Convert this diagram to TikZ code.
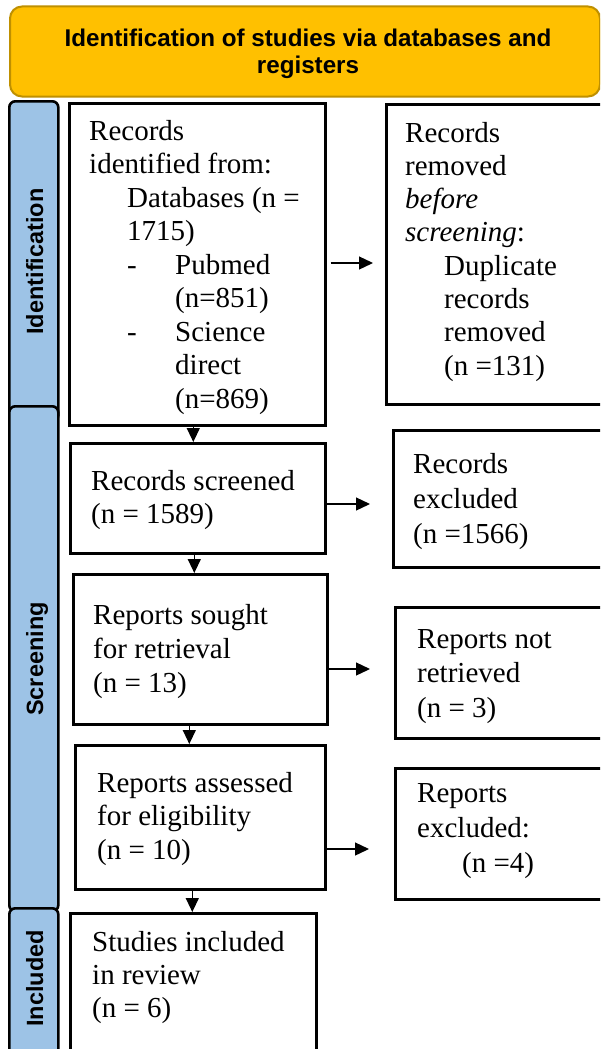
\documentclass[tikz,border=0pt]{standalone}
\usepackage{fontspec}
\setmainfont{Liberation Serif}
\newfontfamily\hdrfont{Liberation Sans}
\usetikzlibrary{arrows.meta}
\definecolor{bangold}{HTML}{FFC000}
\definecolor{banedge}{HTML}{BF9000}
\definecolor{barblue}{HTML}{9DC3E6}
\begin{document}
\begin{tikzpicture}[x=1pt,y=-1pt,
  box/.style={draw=black, line width=2.6pt, fill=white, inner sep=0pt, anchor=north west},
  bar/.style={draw=black, line width=2.6pt, fill=barblue, rounded corners=6pt, inner sep=0pt, anchor=north west, minimum width=49pt},
  sidelab/.style={rotate=90, anchor=base, inner sep=0pt, font=\hdrfont\bfseries\fontsize{23.5pt}{27pt}\selectfont},
  txt/.style={anchor=base west, inner sep=0pt, font=\fontsize{29pt}{#1pt}\selectfont},
  arr/.style={line width=1.3pt, -{Triangle[length=14pt,width=13pt]}}]
\useasboundingbox (0,0) rectangle (600,1049);
\clip (0,0) rectangle (600,1049);
\fill[white] (0,0) rectangle (600,1049);
% banner
\node[draw=banedge, line width=2pt, fill=bangold, rounded corners=12pt, anchor=north west,
      minimum width=590pt, minimum height=90pt, inner sep=0pt] (ban) at (9,5.5) {};
\node[anchor=base, inner sep=0pt, font=\hdrfont\bfseries\fontsize{24.2pt}{27pt}\selectfont] (bantxt) at (308,47)
  {\begin{tabular}[t]{@{}c@{}}Identification of studies via databases and\\registers\end{tabular}};
% side bars
\node[bar, minimum height=320pt] (ib) at (8,100) {};
\node[bar, minimum height=505pt] (sb) at (8,405) {};
\node[bar, minimum height=160pt] (cb) at (8,907) {};
\node[sidelab] (ibt) at (43,261.5) {Identification};
\node[sidelab] (sbt) at (43,659) {Screening};
\node[sidelab] (cbt) at (43,978.5) {Included};
% main boxes
\node[box, minimum width=256pt, minimum height=322pt] (b1) at (68,102) {};
\node[box, minimum width=255pt, minimum height=110pt] (b2) at (69,442) {};
\node[box, minimum width=254pt, minimum height=150pt] (b3) at (72,573) {};
\node[box, minimum width=250pt, minimum height=144pt] (b4) at (74,744) {};
\node[box, minimum width=246pt, minimum height=160pt] (b5) at (69,912) {};
% right boxes
\node[box, minimum width=240pt, minimum height=300pt] (r1) at (385,103) {};
\node[box, minimum width=240pt, minimum height=137pt] (r2) at (392,429) {};
\node[box, minimum width=240pt, minimum height=131pt] (r3) at (394,606) {};
\node[box, minimum width=240pt, minimum height=131pt] (r4) at (394,767) {};
% texts
\node[txt=33.5] (t1) at (89,140) {\begin{tabular}[t]{@{}l@{}}
Records\\
identified from:\\
\hspace*{38pt}Databases (n =\\
\hspace*{38pt}1715)\\
\hspace*{38pt}\makebox[48pt][l]{-}Pubmed\\
\hspace*{86pt}(n=851)\\
\hspace*{38pt}\makebox[48pt][l]{-}Science\\
\hspace*{86pt}direct\\
\hspace*{86pt}(n=869)
\end{tabular}};
\node[txt=33.3] (tr1) at (405,142) {\begin{tabular}[t]{@{}l@{}}
Records\\
removed\\
\textit{before}\\
\textit{screening}:\\
\hspace*{39pt}Duplicate\\
\hspace*{39pt}records\\
\hspace*{39pt}removed\\
\hspace*{39pt}(n =131)
\end{tabular}};
\node[txt=33] (t2) at (91,490) {\begin{tabular}[t]{@{}l@{}}Records screened\\(n = 1589)\end{tabular}};
\node[txt=35] (tr2) at (413,473) {\begin{tabular}[t]{@{}l@{}}Records\\excluded\\(n =1566)\end{tabular}};
\node[txt=34] (t3) at (93,624) {\begin{tabular}[t]{@{}l@{}}Reports sought\\for retrieval\\(n = 13)\end{tabular}};
\node[txt=34.5] (tr3) at (417,648) {\begin{tabular}[t]{@{}l@{}}Reports not\\retrieved\\(n = 3)\end{tabular}};
\node[txt=33.5] (t4) at (97,792) {\begin{tabular}[t]{@{}l@{}}Reports assessed\\for eligibility\\(n = 10)\end{tabular}};
\node[txt=35] (tr4) at (417,802) {\begin{tabular}[t]{@{}l@{}}Reports\\excluded:\\\hspace*{45pt}(n =4)\end{tabular}};
\node[txt=33] (t5) at (92,951) {\begin{tabular}[t]{@{}l@{}}Studies included\\in review\\(n = 6)\end{tabular}};
% vertical arrows
\draw[arr] ([xshift=-4pt]b1.south) -- ([xshift=-4.5pt]b2.north);
\draw[arr] ([xshift=-3.5pt]b2.south) -- ([xshift=-6pt]b3.north);
\draw[arr] ([xshift=-11pt]b3.south) -- ([xshift=-11pt]b4.north);
\draw[arr] ([xshift=-8pt]b4.south) -- ([xshift=-1pt]b5.north);
% horizontal arrows
\coordinate (tip1) at (373,263);
\coordinate (tip2) at (370,504);
\coordinate (tip3) at (370,669);
\coordinate (tip4) at (369,849);
\draw[arr] ([xshift=4pt]b1.east |- tip1) -- (tip1);
\draw[arr] (b2.east |- tip2) -- (tip2);
\draw[arr] (b3.east |- tip3) -- (tip3);
\draw[arr] (b4.east |- tip4) -- (tip4);
\end{tikzpicture}
\end{document}
